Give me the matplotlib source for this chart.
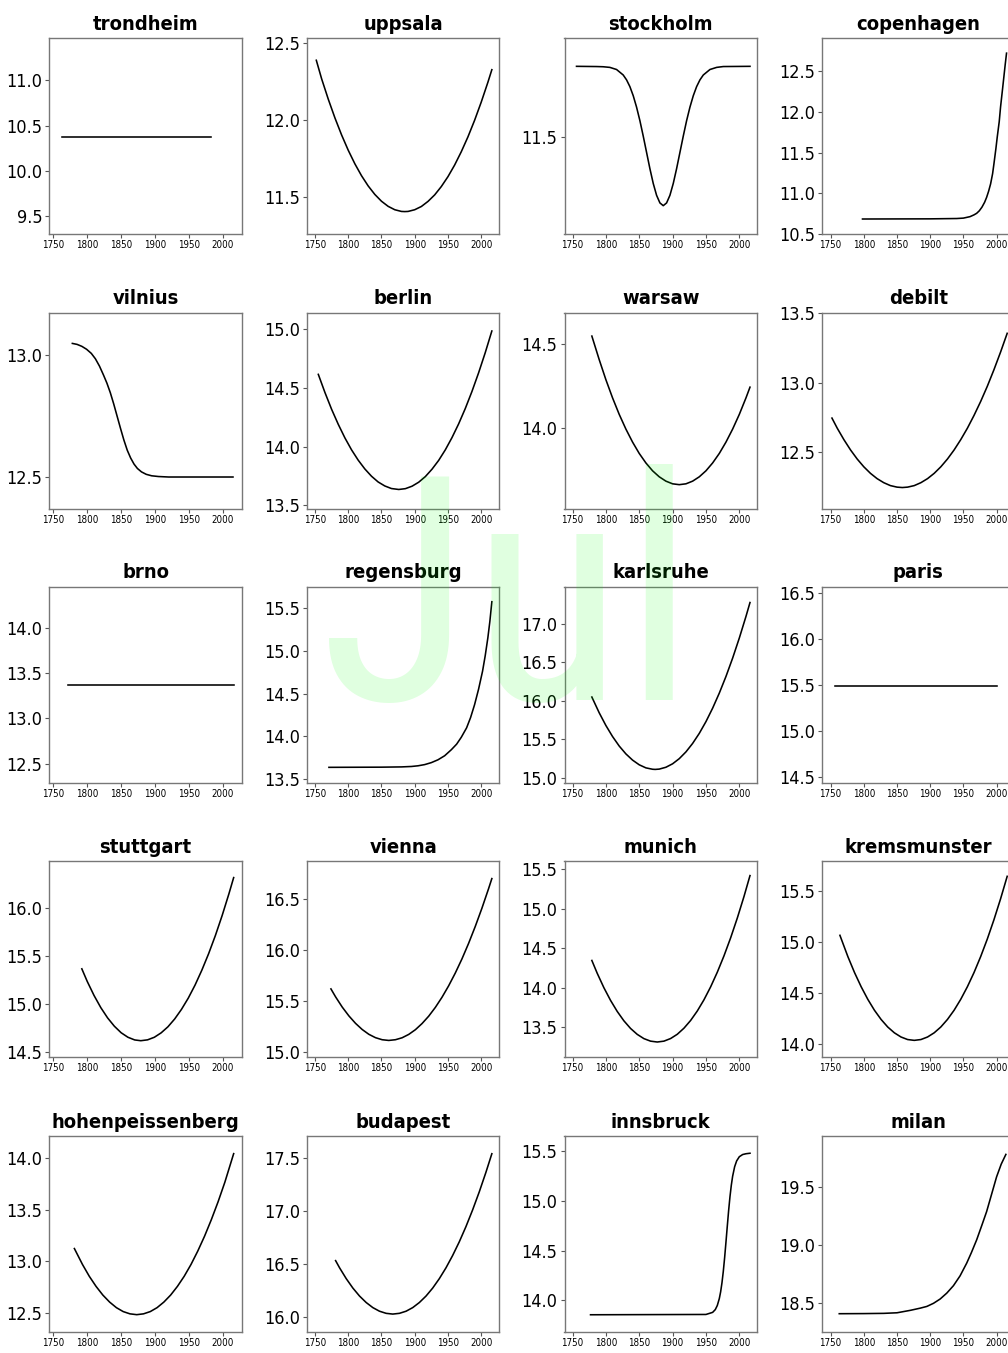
import matplotlib
matplotlib.use("Agg")
import matplotlib.pyplot as plt
from matplotlib.ticker import MultipleLocator, FormatStrFormatter

# station trend curves (July)
stations = ["trondheim", "uppsala", "stockholm", "copenhagen",
            "vilnius", "berlin", "warsaw", "debilt",
            "brno", "regensburg", "karlsruhe", "paris",
            "stuttgart", "vienna", "munich", "kremsmunster",
            "hohenpeissenberg", "budapest", "innsbruck", "milan"]

trondheim_yr = [1762, 1982]
trondheim_t = [10.38, 10.38]
uppsala_yr = [1752, 1760, 1770, 1780, 1790, 1800, 1810, 1820, 1830, 1840, 1850, 1860, 1870, 1880, 1885,
              1890, 1900, 1910, 1920, 1930, 1940, 1950, 1960, 1970, 1980, 1990, 2000, 2010, 2016]
uppsala_t = [12.386, 12.266, 12.134, 12.013, 11.903, 11.804, 11.716, 11.639, 11.573, 11.518, 11.474, 11.441,
             11.419, 11.408, 11.407, 11.408, 11.419, 11.440, 11.473, 11.515, 11.569, 11.633, 11.708, 11.794,
             11.890, 11.997, 12.115, 12.243, 12.325]
stockholm_yr = [1756, 1786, 1796, 1806, 1816, 1826, 1831, 1836, 1841, 1846, 1851, 1856, 1861, 1866, 1871,
                1876, 1881, 1886, 1891, 1896, 1901, 1906, 1911, 1916, 1921, 1926, 1931, 1936, 1941, 1946,
                1956, 1966, 1976, 2016]
stockholm_t = [11.832, 11.831, 11.830, 11.827, 11.817, 11.791, 11.768, 11.736, 11.693, 11.639, 11.575, 11.502,
               11.425, 11.348, 11.278, 11.222, 11.186, 11.173, 11.186, 11.222, 11.278, 11.348, 11.425, 11.502,
               11.575, 11.639, 11.693, 11.736, 11.768, 11.791, 11.817, 11.827, 11.831, 11.832]
copenhagen_yr = [1798, 1900, 1940, 1950, 1960, 1966, 1970, 1974, 1978, 1982, 1985, 1988, 1991, 1994, 1996,
                 1999, 2001, 2004, 2006, 2009, 2011, 2013, 2015]
copenhagen_t = [10.684, 10.686, 10.69, 10.695, 10.713, 10.735, 10.754, 10.785, 10.83, 10.89, 10.95, 11.025,
                11.115, 11.24, 11.36, 11.55, 11.69, 11.88, 12.06, 12.28, 12.43, 12.58, 12.72]

vilnius_yr = [1778, 1785, 1792, 1799, 1806, 1812, 1818, 1824, 1829, 1834, 1839, 1844, 1849, 1854, 1859,
              1864, 1869, 1874, 1880, 1887, 1895, 1905, 1920, 1950, 2015]
vilnius_t = [13.048, 13.044, 13.036, 13.024, 13.007, 12.985, 12.955, 12.918, 12.885, 12.846, 12.800, 12.750,
             12.700, 12.652, 12.610, 12.578, 12.553, 12.535, 12.521, 12.511, 12.505, 12.502, 12.500, 12.500,
             12.500]
berlin_yr = [1755, 1765, 1775, 1785, 1795, 1805, 1815, 1825, 1835, 1845, 1855, 1865, 1876, 1886, 1896,
             1906, 1916, 1926, 1936, 1946, 1956, 1966, 1976, 1986, 1996, 2006, 2016]
berlin_t = [14.616, 14.461, 14.318, 14.190, 14.074, 13.972, 13.884, 13.809, 13.747, 13.698, 13.664, 13.642,
            13.634, 13.641, 13.662, 13.696, 13.744, 13.807, 13.882, 13.972, 14.076, 14.193, 14.324, 14.469,
            14.628, 14.800, 14.986]
warsaw_yr = [1779, 1790, 1800, 1810, 1820, 1830, 1840, 1850, 1860, 1870, 1880, 1890, 1900, 1910, 1920,
             1930, 1940, 1950, 1960, 1970, 1980, 1990, 2000, 2010, 2016]
warsaw_t = [14.548, 14.407, 14.287, 14.178, 14.079, 13.991, 13.913, 13.845, 13.788, 13.741, 13.705, 13.679,
            13.663, 13.658, 13.663, 13.679, 13.705, 13.741, 13.788, 13.845, 13.913, 13.991, 14.079, 14.178,
            14.242]
debilt_yr = [1752, 1760, 1770, 1780, 1790, 1800, 1810, 1820, 1830, 1840, 1850, 1858, 1866, 1876, 1886,
             1896, 1906, 1916, 1926, 1936, 1946, 1956, 1966, 1976, 1986, 1996, 2006, 2016]
debilt_t = [12.745, 12.672, 12.590, 12.516, 12.451, 12.395, 12.348, 12.310, 12.281, 12.260, 12.249, 12.246,
            12.249, 12.260, 12.281, 12.310, 12.348, 12.395, 12.451, 12.516, 12.590, 12.672, 12.764, 12.864,
            12.973, 13.092, 13.219, 13.354]

brno_yr = [1772, 2016]
brno_t = [13.364, 13.364]
regensburg_yr = [1771, 1850, 1880, 1895, 1905, 1915, 1925, 1935, 1945, 1955, 1963, 1970, 1978, 1984, 1990,
                 1996, 2002, 2006, 2010, 2013, 2016]
regensburg_t = [13.640, 13.642, 13.645, 13.650, 13.658, 13.672, 13.695, 13.728, 13.775, 13.845, 13.91, 13.99,
                14.10, 14.22, 14.37, 14.55, 14.76, 14.94, 15.15, 15.34, 15.57]
karlsruhe_yr = [1779, 1790, 1800, 1810, 1820, 1830, 1840, 1850, 1860, 1870, 1874, 1880, 1890, 1900, 1910,
                1920, 1930, 1940, 1950, 1960, 1970, 1980, 1990, 2000, 2010, 2016]
karlsruhe_t = [16.050, 15.845, 15.680, 15.536, 15.412, 15.310, 15.229, 15.168, 15.128, 15.110, 15.108, 15.112,
               15.136, 15.181, 15.248, 15.336, 15.446, 15.577, 15.730, 15.905, 16.101, 16.318, 16.557, 16.818,
               17.100, 17.280]
paris_yr = [1757, 2000]
paris_t = [15.49, 15.49]

stuttgart_yr = [1792, 1800, 1810, 1820, 1830, 1840, 1850, 1860, 1870, 1879, 1889, 1899, 1909, 1919, 1929,
                1939, 1949, 1959, 1969, 1979, 1989, 1999, 2009, 2016]
stuttgart_t = [15.368, 15.236, 15.090, 14.963, 14.856, 14.769, 14.701, 14.654, 14.626, 14.618, 14.627, 14.654,
               14.700, 14.763, 14.845, 14.945, 15.062, 15.198, 15.353, 15.525, 15.715, 15.924, 16.151, 16.320]
vienna_yr = [1774, 1781, 1791, 1801, 1811, 1821, 1831, 1841, 1851, 1861, 1871, 1881, 1891, 1901, 1911,
             1921, 1931, 1941, 1951, 1961, 1971, 1981, 1991, 2001, 2011, 2016]
vienna_t = [15.620, 15.542, 15.442, 15.356, 15.283, 15.223, 15.176, 15.143, 15.123, 15.116, 15.123, 15.142,
            15.175, 15.221, 15.281, 15.353, 15.439, 15.538, 15.650, 15.775, 15.913, 16.065, 16.230, 16.408,
            16.599, 16.699]
munich_yr = [1779, 1787, 1797, 1807, 1817, 1827, 1837, 1847, 1857, 1867, 1877, 1887, 1897, 1907, 1917,
             1927, 1937, 1947, 1957, 1967, 1977, 1987, 1997, 2007, 2016]
munich_t = [14.344, 14.182, 13.999, 13.838, 13.698, 13.579, 13.482, 13.407, 13.353, 13.321, 13.310, 13.321,
            13.354, 13.408, 13.485, 13.583, 13.703, 13.845, 14.009, 14.195, 14.402, 14.631, 14.882, 15.155,
            15.420]
kremsmunster_yr = [1764, 1776, 1786, 1796, 1806, 1816, 1826, 1836, 1846, 1856, 1866, 1876, 1886, 1896, 1906,
                   1916, 1926, 1936, 1946, 1956, 1966, 1976, 1986, 1996, 2006, 2016]
kremsmunster_t = [15.065, 14.856, 14.700, 14.561, 14.438, 14.331, 14.241, 14.167, 14.110, 14.069, 14.044,
                  14.036, 14.044, 14.069, 14.110, 14.167, 14.241, 14.331, 14.438, 14.561, 14.700, 14.856,
                  15.028, 15.217, 15.422, 15.643]

hohen_yr = [1781, 1793, 1803, 1813, 1823, 1833, 1843, 1853, 1863, 1873, 1883, 1893, 1903, 1913, 1923,
            1933, 1943, 1953, 1963, 1973, 1983, 1993, 2003, 2016]
hohen_t = [13.125, 12.970, 12.856, 12.758, 12.674, 12.606, 12.552, 12.514, 12.492, 12.484, 12.492, 12.514,
           12.552, 12.606, 12.674, 12.758, 12.856, 12.970, 13.100, 13.244, 13.404, 13.578, 13.768, 14.045]
budapest_yr = [1781, 1787, 1797, 1807, 1817, 1827, 1837, 1847, 1857, 1867, 1877, 1887, 1897, 1907, 1917,
               1927, 1937, 1947, 1957, 1967, 1977, 1987, 1997, 2007, 2016]
budapest_t = [16.535, 16.467, 16.365, 16.276, 16.201, 16.140, 16.092, 16.058, 16.038, 16.031, 16.038, 16.058,
              16.092, 16.140, 16.201, 16.276, 16.365, 16.467, 16.583, 16.712, 16.855, 17.012, 17.182, 17.366,
              17.543]
innsbruck_yr = [1777, 1950, 1960, 1964, 1967, 1970, 1972, 1974, 1976, 1978, 1980, 1982, 1984, 1986, 1988,
                1990, 1993, 1996, 2000, 2005, 2010, 2016]
innsbruck_t = [13.856, 13.859, 13.880, 13.908, 13.949, 14.018, 14.086, 14.177, 14.292, 14.430, 14.586, 14.747,
               14.903, 15.041, 15.156, 15.247, 15.342, 15.400, 15.442, 15.464, 15.472, 15.477]
milan_yr = [1763, 1800, 1830, 1850, 1870, 1885, 1895, 1905, 1915, 1925, 1935, 1945, 1955, 1962, 1970,
            1978, 1985, 1992, 2000, 2007, 2014]
milan_t = [18.408, 18.409, 18.411, 18.416, 18.437, 18.456, 18.471, 18.498, 18.535, 18.586, 18.650, 18.735,
           18.845, 18.935, 19.046, 19.175, 19.29, 19.43, 19.59, 19.70, 19.784]

years = [trondheim_yr, uppsala_yr, stockholm_yr, copenhagen_yr,
         vilnius_yr, berlin_yr, warsaw_yr, debilt_yr,
         brno_yr, regensburg_yr, karlsruhe_yr, paris_yr,
         stuttgart_yr, vienna_yr, munich_yr, kremsmunster_yr,
         hohen_yr, budapest_yr, innsbruck_yr, milan_yr]
temps = [trondheim_t, uppsala_t, stockholm_t, copenhagen_t,
         vilnius_t, berlin_t, warsaw_t, debilt_t,
         brno_t, regensburg_t, karlsruhe_t, paris_t,
         stuttgart_t, vienna_t, munich_t, kremsmunster_t,
         hohen_t, budapest_t, innsbruck_t, milan_t]

ylims = [(9.304, 11.469), (11.262, 12.53), (11.039, 11.966), (10.50, 12.906),
         (12.37, 13.174), (13.47, 15.142), (13.514, 14.688), (12.094, 13.502),
         (12.29, 14.452), (13.461, 15.745), (14.935, 17.486), (14.435, 16.565),
         (14.448, 16.493), (14.954, 16.871), (13.12, 15.605), (13.873, 15.793),
         (12.316, 14.216), (15.862, 17.71), (13.683, 15.65), (18.25, 19.943)]
xlims = [(1744, 2028), (1738, 2027.5), (1738, 2026.5), (1737, 2027)]

plt.rcParams['font.family'] = ['DejaVu Sans']
plt.rcParams['font.stretch'] = 'condensed'

W, H = 1008, 1353
fig = plt.figure(figsize=(W / 100, H / 100), dpi=100)

col_left = [49.3, 307, 564.5, 822]
row_top = [38, 312.7, 586.7, 861, 1136]
ax_w, ax_h = 192.5, 196

for i, name in enumerate(stations):
    r, c = divmod(i, 4)
    ax = fig.add_axes([col_left[c] / W, 1 - (row_top[r] + ax_h) / H, ax_w / W, ax_h / H])
    ax.plot(years[i], temps[i], color='black', lw=1.15, solid_joinstyle='round')
    ax.set_xlim(*xlims[c])
    ax.set_ylim(*ylims[i])
    ax.set_xticks([1750, 1800, 1850, 1900, 1950, 2000])
    ax.yaxis.set_major_locator(MultipleLocator(0.5))
    ax.yaxis.set_major_formatter(FormatStrFormatter('%.1f'))
    ax.tick_params(axis='x', labelsize=7, length=3, width=0.8, pad=1.5, color='#555555')
    ax.tick_params(axis='y', labelsize=13, length=3, width=0.8, pad=2, color='#555555')
    for sp in ax.spines.values():
        sp.set_color('#777777')
        sp.set_linewidth(1.0)
    ax.set_title(name, fontsize=14.5, fontweight='bold', pad=6)

# watermark on top of everything
fig.text(508 / W, 1 - 700 / H, "Jul", fontsize=226, color=(0, 1, 0), alpha=0.12,
         family=['Roboto Condensed', 'DejaVu Sans'], stretch='condensed',
         ha='center', va='baseline', zorder=100)

fig.savefig("out.png", dpi=100)
